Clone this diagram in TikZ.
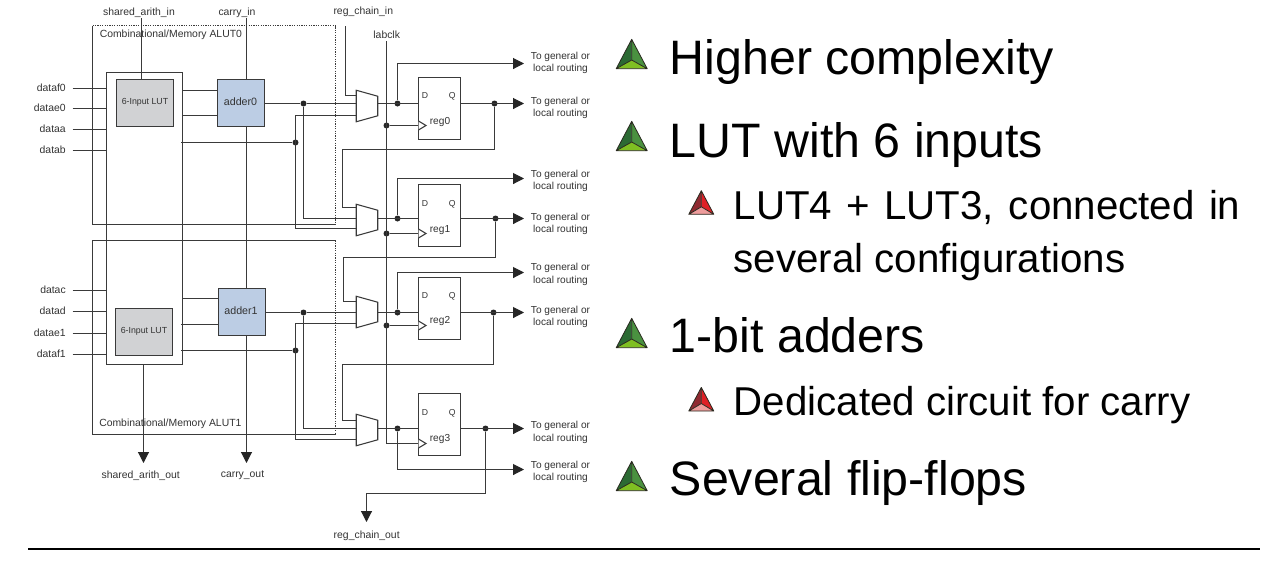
\documentclass[tikz,border=0pt]{standalone}
\usepackage{fontspec}
\setmainfont{Liberation Sans}
\usetikzlibrary{arrows.meta,calc}
\definecolor{wire}{HTML}{3A3A3A}
\definecolor{labeltext}{HTML}{333333}
\definecolor{lutfill}{HTML}{D1D2D4}
\definecolor{addfill}{HTML}{BCCDE4}
\definecolor{gA}{HTML}{2B6A33}\definecolor{gB}{HTML}{4A9140}\definecolor{gC}{HTML}{7FBF22}
\definecolor{rA}{HTML}{8F2A31}\definecolor{rB}{HTML}{DE2026}\definecolor{rC}{HTML}{EE9C9C}
\definecolor{triedge}{HTML}{2A2A20}
\tikzset{
 wirel/.style={draw=wire,line width=.8pt},
 arr/.style={wirel,-{Triangle[length=8.2pt,width=8.2pt,color=black!85]}},
 boxline/.style={draw=wire,line width=.8pt},
 dotline/.style={draw=wire,line width=.8pt,dash pattern=on 1pt off .8pt},
 lutbox/.style={draw=wire,fill=lutfill,line width=.9pt,minimum width=42.75pt,minimum height=35.25pt,inner sep=0pt},
 addbox/.style={draw=wire,fill=addfill,line width=.9pt,minimum width=35.25pt,minimum height=35.25pt,inner sep=0pt},
 regbox/.style={draw=wire,line width=.8pt,minimum width=31.5pt,minimum height=46.5pt,inner sep=0pt},
 muxnode/.style={minimum width=15.75pt,minimum height=23.25pt,inner sep=0pt},
 dot/.style={circle,fill=black!85,inner sep=0pt,minimum size=4.5pt},
 lab/.style={inner sep=0pt,text=labeltext,font=\fontsize{7.8}{9}\selectfont,text height=.72em,text depth=.2em},
 routelab/.style={lab,font=\fontsize{7.6}{9}\selectfont},
 small/.style={lab,font=\fontsize{6.6}{8}\selectfont},
 pin/.style={lab,font=\fontsize{6.5}{8}\selectfont},
 big/.style={inner sep=0pt,anchor=base west,font=\fontsize{36.25}{40}\selectfont},
 sub/.style={inner sep=0pt,anchor=base west,font=\fontsize{30.2}{34}\selectfont},
}
\newcommand\muxshape[1]{\draw[boxline,fill=white] (#1.north west) -- ($(#1.north east)+(0,6)$) -- ($(#1.south east)+(0,-6)$) -- (#1.south west) -- cycle;}
\newcommand\clockmark[1]{\draw[boxline,fill=white] ($(#1)+(0,-4.5)$) -- ($(#1)+(7.5,0)$) -- ($(#1)+(0,4.5)$);}
% x, base y, half width, height, centre height, three colours
\newcommand\tri[8]{%
 \fill[#6] (#1,#2-#4) -- (#1-#3,#2) -- (#1,#2-#5) -- cycle;
 \fill[#7] (#1,#2-#4) -- (#1+#3,#2) -- (#1,#2-#5) -- cycle;
 \fill[#8] (#1-#3,#2) -- (#1+#3,#2) -- (#1,#2-#5) -- cycle;
 \draw[triedge,line width=.6pt,line join=round] (#1,#2-#4) -- (#1-#3,#2) -- (#1+#3,#2) -- cycle
   (#1,#2-#4) -- (#1,#2-#5) -- (#1-#3,#2) (#1,#2-#5) -- (#1+#3,#2);}
\begin{document}
\begin{tikzpicture}[x=.75pt,y=-.75pt]
\fill[white] (0,0) rectangle (1264,562);
\useasboundingbox (0,0) rectangle (1264,562);

% ALUT frames
\draw[boxline] (335.5,224.5) -- (92.5,224.5) -- (92.5,25.5);
\draw[dotline] (92.5,25.5) -- (335.5,25.5) -- (335.5,224.5);
\draw[boxline] (335.5,240.5) -- (92.5,240.5) -- (92.5,434.5) -- (335.5,434.5);
\draw[dotline] (335.5,240.5) -- (335.5,434.5);
\draw[boxline] (106.5,72.5) rectangle (182.5,364.5);

% blocks
\node[lutbox] (lut0) at (145,103) {};
\node[lutbox] (lut1) at (144,332) {};
\node[addbox] (add0) at (241,103) {};
\node[addbox] (add1) at (242,312) {};
\node[small] at (145,101.5) {6-Input LUT};
\node[small] at (144,330) {6-Input LUT};
\node[lab,font=\fontsize{8}{9}\selectfont] at (240.5,102) {adder0};
\node[lab,font=\fontsize{8}{9}\selectfont] at (241,311.5) {adder1};
\node[regbox] (reg0) at (439.5,108.5) {};
\node[regbox] (reg1) at (439.5,215.5) {};
\node[regbox] (reg2) at (439.5,308.5) {};
\node[regbox] (reg3) at (439.5,424.5) {};
\node[muxnode] (mux0) at (367,106) {};
\node[muxnode] (mux1) at (367,220) {};
\node[muxnode] (mux2) at (367,312) {};
\node[muxnode] (mux3) at (367,430) {};
\foreach \m in {mux0,mux1,mux2,mux3}{\muxshape{\m}}

% top and bottom signals
\node[lab] (sain) at (139,12) {shared\_arith\_in};
\node[lab] (cin) at (237,12) {carry\_in};
\node[lab] (rcin) at (363.3,11) {reg\_chain\_in};
\node[lab] (clk) at (386.7,35.5) {labclk};
\node[lab] (saout) at (140.7,475) {shared\_arith\_out};
\node[lab] (cout) at (242.5,474.5) {carry\_out};
\node[lab] (rcout) at (366.7,535) {reg\_chain\_out};
\draw[wirel] (141.5,18) -- (141.5,79.5);
\draw[wirel] (246.5,18) -- (246.5,79.5);
\draw[wirel] (246.5,126.5) -- (246.5,288.5);
\draw[arr] (246.5,335.5) -- (246.5,463);
\draw[arr] (143.5,364.5) -- (143.5,463);

% data inputs
\foreach \t/\y/\n in {dataf0/88.5/a,datae0/108.5/b,dataa/129.5/c,datab/150.5/d,datac/290.5/e,datad/311.5/f,datae1/333.5/g,dataf1/354.5/h}{
  \node[lab,anchor=east] (in\n) at (66,\y) {\t};
  \coordinate (st\n) at (72.5,\y);
  \draw[wirel] (st\n) -- (106.5,\y);
}

% LUT to adder
\draw[wirel] (182.5,90.5) -- (217.5,90.5);
\draw[wirel] (182.5,115.5) -- (217.5,115.5);
\draw[wirel] (182.5,298.5) -- (218.5,298.5);
\draw[wirel] (181,324.5) -- (218.5,324.5);

% junctions
\node[dot] (j0a) at (303.5,103.5) {};
\node[dot] (j0b) at (295.5,142.5) {};
\node[dot] (j1a) at (303.5,312.5) {};
\node[dot] (j1b) at (295.5,350.5) {};
\node[dot] (d0) at (397.5,103.5) {};
\node[dot] (d1) at (397.5,218.5) {};
\node[dot] (d2) at (397.5,312.5) {};
\node[dot] (d3) at (397.5,428.5) {};
\node[dot] (q0) at (494.5,103.5) {};
\node[dot] (q1) at (495.5,218.5) {};
\node[dot] (q2) at (493.5,312.5) {};
\node[dot] (q3) at (485.5,428.5) {};
\node[dot] (c0) at (386.5,125.5) {};
\node[dot] (c1) at (386.5,233.5) {};
\node[dot] (c2) at (386.5,325.5) {};

% adder outputs into the muxes
\draw[wirel] (264.5,103.5) -- (j0a) -- (356.5,103.5);
\draw[wirel] (j0a) -- (303.5,218.5) -- (356.5,218.5);
\draw[wirel] (181,142.5) -- (j0b);
\draw[wirel] (356.5,115.5) -- (295.5,115.5) -- (295.5,228.5) -- (356.5,228.5);
\draw[wirel] (265.5,312.5) -- (j1a) -- (356.5,312.5);
\draw[wirel] (j1a) -- (303.5,428.5) -- (356.5,428.5);
\draw[wirel] (181,350.5) -- (j1b);
\draw[wirel] (356.5,323.5) -- (295.5,323.5) -- (295.5,439.5) -- (356.5,439.5);

% mux outputs to the registers
\draw[wirel] (377.5,103.5) -- (418.5,103.5);
\draw[wirel] (377.5,218.5) -- (418.5,218.5);
\draw[wirel] (377.5,312.5) -- (418.5,312.5);
\draw[wirel] (377.5,428.5) -- (418.5,428.5);

% register bypass outputs
\draw[arr] (d0) -- (397.5,63.5) -- (524,63.5);
\draw[arr] (d1) -- (397.5,178.5) -- (524,178.5);
\draw[arr] (d2) -- (397.5,272.5) -- (524,272.5);
\draw[arr] (d3) -- (397.5,469.5) -- (524,469.5);

% Q outputs
\draw[arr] (460.5,103.5) -- (524,103.5);
\draw[arr] (460.5,218.5) -- (524,218.5);
\draw[arr] (460.5,312.5) -- (524,312.5);
\draw[arr] (460.5,428.5) -- (524,428.5);

% register chain
\draw[wirel] (345.5,26) -- (345.5,95.5) -- (356.5,95.5);
\draw[wirel] (q0) -- (494.5,149.5) -- (342.5,149.5) -- (342.5,207.5) -- (356.5,207.5);
\draw[wirel] (q1) -- (495.5,257.5) -- (343.5,257.5) -- (343.5,301.5) -- (356.5,301.5);
\draw[wirel] (q2) -- (493.5,364.5) -- (342.5,364.5) -- (342.5,420.5) -- (356.5,420.5);
\draw[arr] (q3) -- (485.5,493.5) -- (366.5,493.5) -- (366.5,522);

% clock
\draw[wirel] (386.5,41) -- (386.5,443.5) -- (418.5,443.5);
\draw[wirel] (c0) -- (418.5,125.5);
\draw[wirel] (c1) -- (418.5,233.5);
\draw[wirel] (c2) -- (418.5,325.5);
\clockmark{418.5,125.5}
\clockmark{418.5,233.5}
\clockmark{418.5,325.5}
\clockmark{418.5,443.5}

% register text
\foreach \r/\dy/\ly in {0/95.3/120.7,1/202.7/228.7,2/295/320.3,3/412.3/438}{
  \node[pin] at (425,\dy) {D};
  \node[pin] at (452.3,\dy) {Q};
  \node[routelab] at (440,\ly) {reg\r};
}

% routing labels
\foreach \a/\b in {55.7/68.3,101/112.7,174/186,216.7/229.3,266.7/280,309.7/322.3,425/437.7,464.7/477.3}{
  \node[routelab] at (560.5,\a) {To general or};
  \node[routelab] at (560.5,\b) {local routing};
}

% frame titles
\node[lab,anchor=west] (t0) at (99.5,33.7) {Combinational/Memory ALUT0};
\node[lab,anchor=west] (t1) at (99,423) {Combinational/Memory ALUT1};

% rule
\draw[black,line width=1.9pt] (28,549) -- (1260,549);

% right hand text
\tri{631.7}{68.7}{15.5}{29.4}{8.7}{gA}{gB}{gC}
\tri{631.7}{150.7}{15.5}{29.4}{8.7}{gA}{gB}{gC}
\tri{631.7}{347.7}{15.5}{29.4}{8.7}{gA}{gB}{gC}
\tri{631.7}{490.7}{15.5}{29.4}{8.7}{gA}{gB}{gC}
\tri{701.3}{214.3}{12.5}{23.6}{7.5}{rA}{rB}{rC}
\tri{701.3}{411}{12.5}{23.6}{7.5}{rA}{rB}{rC}
\node[big] at (669.5,74) {Higher complexity};
\node[big] at (669.5,157) {LUT with 6 inputs};
\node[sub] at (733.5,219) {\makebox[380pt][s]{LUT4 + LUT3, connected in}};
\node[sub] at (733.5,272) {several configurations};
\node[big] at (669.5,352.5) {1-bit adders};
\node[sub] at (733.5,415) {Dedicated circuit for carry};
\node[big] at (669.5,495) {Several flip-flops};
\end{tikzpicture}
\end{document}
